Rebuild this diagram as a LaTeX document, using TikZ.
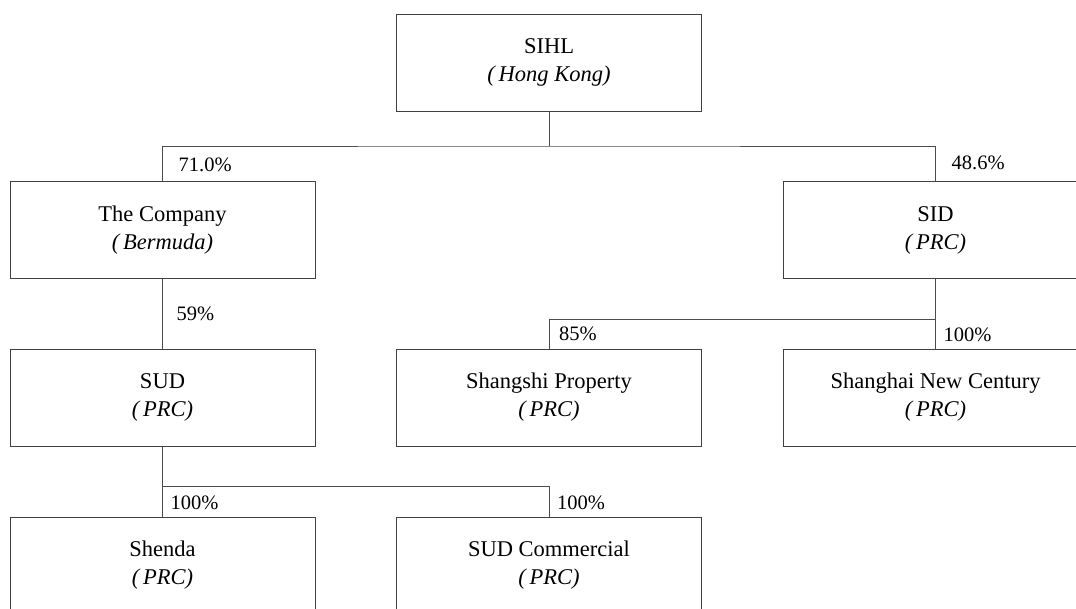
\documentclass[tikz,border=0pt]{standalone}
\usepackage{fontspec}
\setmainfont{Liberation Serif}
\usetikzlibrary{positioning}

\begin{document}
\begin{tikzpicture}[x=1pt,y=-1pt,
  ent/.style={draw=black!75,line width=1pt,rectangle,minimum width=305pt,
              minimum height=97pt,inner sep=0pt,align=center,
              font=\fontsize{22.5}{28}\selectfont},
  pct/.style={anchor=base west,inner sep=0pt,font=\fontsize{20.5}{24}\selectfont},
  lnk/.style={draw=black!70,line width=1pt}
]
\clip (0,0) rectangle (1076,608);
\fill[white] (0,0) rectangle (1076,608);
\node[ent] (sihl)   at (549,62.5)    {SIHL\\\textit{(\,Hong Kong)}};
\node[ent] (co)     at (162.5,230)   {The Company\\\textit{(\,Bermuda)}};
\node[ent] (sid)    at (935.5,230)   {SID\\\textit{(\,PRC)}};
\node[ent] (sud)    at (162.5,397.5) {SUD\\\textit{(\,PRC)}};
\node[ent] (prop)   at (549,397.5)   {Shangshi Property\\\textit{(\,PRC)}};
\node[ent] (snc)    at (935.5,397.5) {Shanghai New Century\\\textit{(\,PRC)}};
\node[ent] (shenda) at (162.5,565.5) {Shenda\\\textit{(\,PRC)}};
\node[ent] (comm)   at (549,565.5)   {SUD Commercial\\\textit{(\,PRC)}};

% bus points
\coordinate (b1) at (549,146);
\coordinate (b2) at (935.5,319);
\coordinate (b3) at (162.5,486);

\draw[lnk] (sihl) -- (b1);
\draw[lnk] (co.north) |- (b1) -| (sid.north);
\draw[lnk] (co) -- (sud);
\draw[lnk] (sid) -- (b2);
\draw[lnk] (prop.north) |- (b2) -- (snc.north);
\draw[lnk] (sud) -- (b3);
\draw[lnk] (shenda.north) -- (b3) -| (comm.north);

\node[pct] (p1) at ([xshift=16pt,yshift=10pt]co.north)     {71.0\%};
\node[pct] (p2) at ([xshift=16pt,yshift=12pt]sid.north)    {48.6\%};
\node[pct] (p3) at ([xshift=14pt,yshift=28pt]sud.north)    {59\%};
\node[pct] (p4) at ([xshift=10pt,yshift=8pt]prop.north)    {85\%};
\node[pct] (p5) at ([xshift=8pt,yshift=7pt]snc.north)      {100\%};
\node[pct] (p6) at ([xshift=8pt,yshift=7pt]shenda.north)   {100\%};
\node[pct] (p7) at ([xshift=8pt,yshift=7pt]comm.north)     {100\%};
\end{tikzpicture}
\end{document}
